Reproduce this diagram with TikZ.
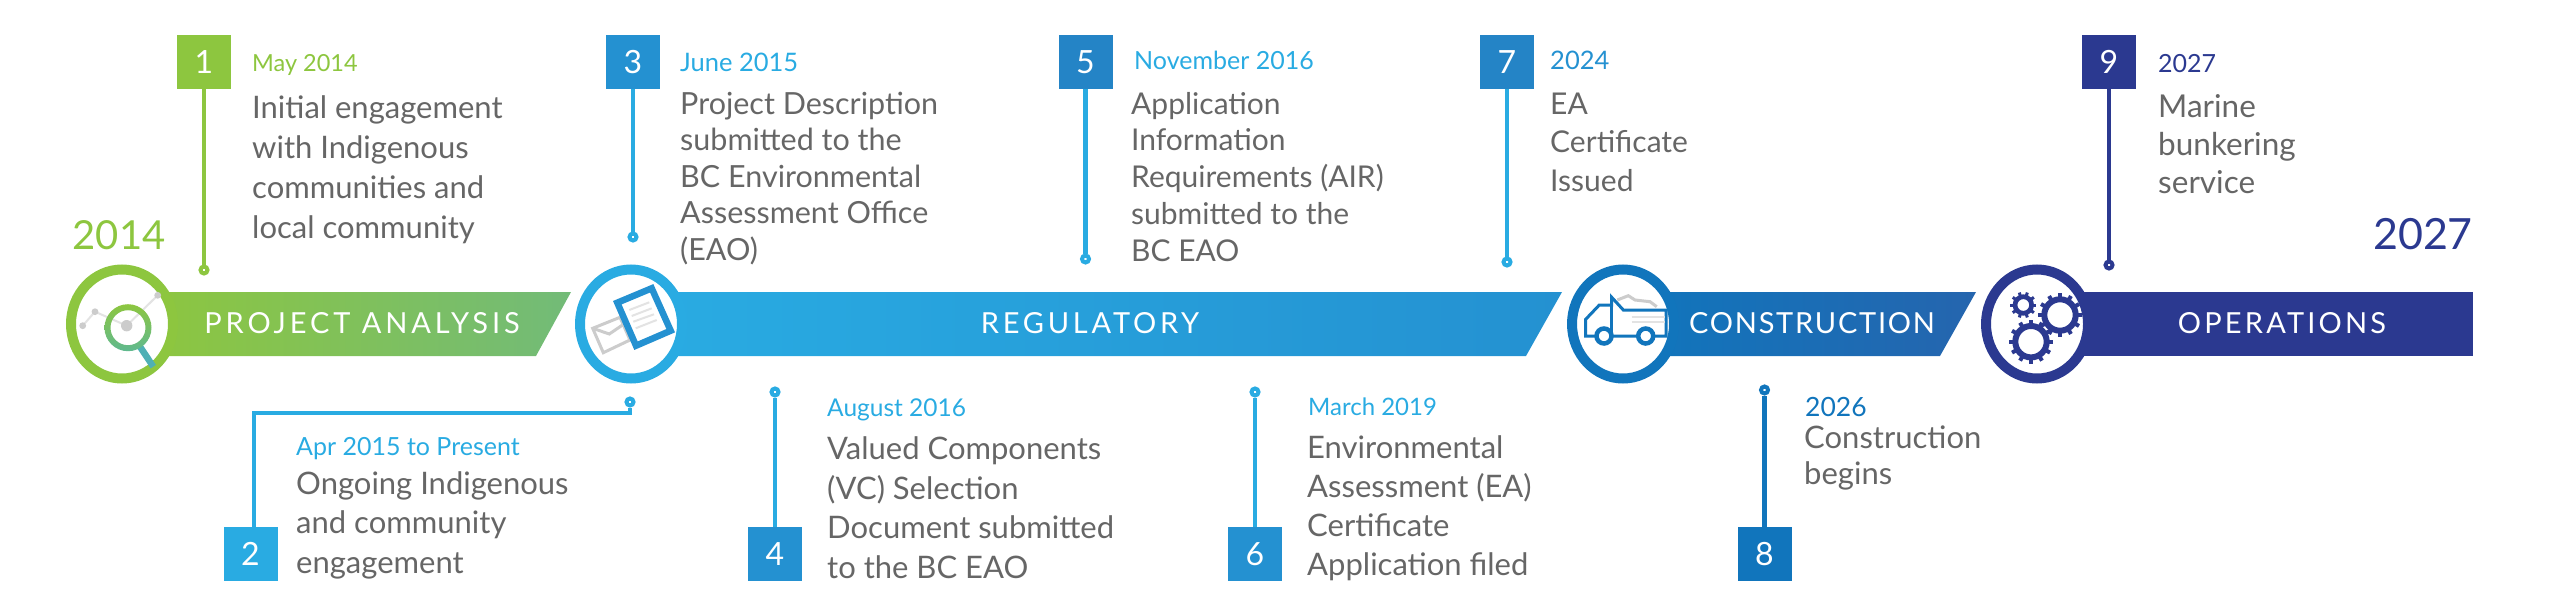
\documentclass[tikz,border=0pt]{standalone}
\usepackage{fontspec}
\setmainfont{Lato}
\usetikzlibrary{shapes.geometric}
\definecolor{grn}{HTML}{8DC63F}
\definecolor{grnb}{HTML}{72BB78}
\definecolor{lensb}{HTML}{5FB98F}
\definecolor{handle}{HTML}{4FB0B5}
\definecolor{sky}{HTML}{29ABE2}
\definecolor{mid}{HTML}{2491D1}
\definecolor{deep}{HTML}{2484C6}
\definecolor{con}{HTML}{1175BC}
\definecolor{conb}{HTML}{2565AE}
\definecolor{ops}{HTML}{2B3990}
\definecolor{txt}{HTML}{666666}
\definecolor{pale}{HTML}{CCCCCC}
\definecolor{paler}{HTML}{E3E3E3}
\tikzset{
  numbox/.style={fill=#1,text=white,inner sep=0,minimum width=54,minimum height=54,
    font=\fontsize{32}{32}\selectfont},
  stemdot/.style={circle,draw=#1,fill=white,line width=4,inner sep=0,minimum size=7},
  stem/.style={line width=4.5,draw=#1},
  ring/.style={ellipse,draw=#1,fill=white,line width=10,inner sep=0,minimum width=102,minimum height=109},
  datetxt/.style n args={2}{anchor=base west,inner sep=0,text=#1,font=\fontsize{#2}{#2}\selectfont},
  bodytxt/.style n args={2}{anchor=base west,align=left,inner sep=0,text=txt,font=\fontsize{#1}{#2}\selectfont},
  yeartxt/.style={inner sep=0,text=#1,font=\fontsize{40}{40}\selectfont},
  bandtxt/.style={inner sep=0,text=white,font=\fontsize{29}{29}\selectfont\addfontfeature{LetterSpace=#1}},
}
\def\gearicon#1#2#3#4{%
  \draw [ops,line width=#2] (0,0) circle (#1);
  \foreach \a in {0,#4,...,359}
    \draw [ops,line width=#3] (\a:#1) -- (\a:#1+#2*0.5+#3*0.8);
}
\begin{document}
\begin{tikzpicture}[x=1pt,y=-1pt]
\useasboundingbox (0,0) rectangle (2550,610);
% bands
\shade [left color=grn,right color=grnb] (150,292) -- (571,292) -- (536,356) -- (150,356) -- cycle;
\shade [left color=sky,right color=mid] (660,292) -- (1562,292) -- (1526,356) -- (660,356) -- cycle;
\shade [left color=con,right color=conb] (1650,292) -- (1976,292) -- (1940,356) -- (1650,356) -- cycle;
\fill [ops] (2060,292) rectangle (2473,356);
\node [bandtxt=13.5] (analysis) at (362,323) {PROJECT ANALYSIS};
\node [bandtxt=13] (regulatory) at (1090,323) {REGULATORY};
\node [bandtxt=6] (construction) at (1812,323) {CONSTRUCTION};
\node [bandtxt=11] (operations) at (2282,323) {OPERATIONS};
\node [ring=grn] (c1) at (122,324) {};
\node [ring=sky] (c2) at (631,324) {};
\node [ring=con] (c3) at (1623,324) {};
\node [ring=ops] (c4) at (2037,324) {};
\node [yeartxt=grn] (y2014) at (119,235) {2014};
\node [yeartxt=ops,font=\fontsize{43}{43}\selectfont] (y2027) at (2423,234) {2027};
% numbered boxes and stems
\foreach \n / \x / \y / \boxcol / \linecol / \dy in {
  1/204/62/grn/grn/270, 3/633/62/mid/sky/237, 5/1085.5/62/deep/sky/259,
  7/1507/62/deep/sky/262, 9/2109/62/ops/ops/265,
  4/775/554/mid/sky/392, 6/1255/554/mid/sky/392, 8/1764.5/554/con/con/390}
{
  \node [numbox=\boxcol] (b\n) at (\x,\y) {\n};
  \node [stemdot=\linecol] (d\n) at (\x,\dy) {};
  \draw [stem=\linecol] (b\n) -- (d\n);
}
\node [numbox=sky] (b2) at (250.5,554) {2};
\node [stemdot=sky] (d2) at (630,402) {};
\coordinate (k2) at (630,413);
\draw [stem=sky] ([xshift=3.5pt]b2.north) |- (k2) -- (d2);
% dates
\node [datetxt={grn}{23.5}] (t1) at (252,71) {May 2014};
\node [datetxt={sky}{25}] (t2) at (296,455) {Apr 2015 to Present};
\node [datetxt={sky}{25.5}] (t3) at (680,71) {June 2015};
\node [datetxt={sky}{24.5}] (t4) at (827,416) {August 2016};
\node [datetxt={sky}{25}] (t5) at (1134,70) {November 2016};
\node [datetxt={sky}{24}] (t6) at (1308,415) {March 2019};
\node [datetxt={mid}{25.5}] (t7) at (1550,70) {2024};
\node [datetxt={con}{26.5}] (t8) at (1805,416) {2026};
\node [datetxt={ops}{25}] (t9) at (2158,72) {2027};
% texts
\node [bodytxt={31}{40}] (n1) at (252,238) {Initial engagement\\with Indigenous\\communities and\\local community};
\node [bodytxt={31}{39.5}] (n2) at (296,573) {Ongoing Indigenous\\and community\\engagement};
\node [bodytxt={30.5}{36.5}] (n3) at (680,260) {Project Description\\submitted to the\\BC Environmental\\Assessment Office\\(EAO)};
\node [bodytxt={31}{39.5}] (n4) at (827,578) {Valued Components\\(VC) Selection\\Document submitted\\to the BC EAO};
\node [bodytxt={30}{36.7}] (n5) at (1131,261) {Application\\Information\\Requirements (AIR)\\submitted to the\\BC EAO};
\node [bodytxt={31}{39}] (n6) at (1307,575) {Environmental\\Assessment (EA)\\Certificate\\Application filed};
\node [bodytxt={30}{38.5}] (n7) at (1550,191) {EA\\Certificate\\Issued};
\node [bodytxt={31}{36}] (n8) at (1804,484) {Construction\\begins};
\node [bodytxt={31.5}{38}] (n9) at (2158,193) {Marine\\bunkering\\service};
% magnifier
\draw [paler,line width=2] (82.7,325.7) -- (95,311.7) -- (126.7,325.7) -- (157.7,295.3);
\fill [pale] (82.7,325.7) circle (3.4) (95,311.7) circle (3.4) (157.7,295.3) circle (3.4) (126.7,325.7) circle (5.7);
\draw [handle,line width=6.5] (140,346.7) -- (153.3,366.7);
\shade [top color=grn,bottom color=lensb,even odd rule] (128,327.7) circle (23.5) (128,327.7) circle (17.5);
% envelope and sheet
\draw [pale,line width=3] (592.7,328.3) -- (620,317.3) -- (630,340) -- (603.3,352.7) -- cycle;
\draw [pale,line width=3] (592.7,328.3) -- (609.3,334) -- (625,323.3);
\filldraw [fill=white,draw=mid,line width=6.5] (617.3,302.7) -- (651.7,288.3) -- (670.7,330.7) -- (636,345.7) -- cycle;
\draw [paler,line width=2] (629.3,310) -- (649.3,302.3) (631.7,316) -- (651.7,308.3) (633.3,321.7) -- (654,314.3) (635.7,328.3) -- (656.7,320);
% truck
\draw [pale,line width=3] (1617.3,300) -- (1628.3,295.7) -- (1635,300) -- (1650,301.7) -- (1656.7,306.7);
\draw [con,line width=3] (1585.7,319.3) -- (1599.3,305) -- (1611.7,305) -- (1611.7,297.3) -- (1623.3,310) -- (1666,310) -- (1666,336) -- (1585.7,336) -- cycle;
\draw [con,line width=3] (1611.7,297.3) -- (1611.7,336);
\draw [paler,line width=2] (1631.7,317.3) -- (1665,317.3) (1631.7,321.7) -- (1665,321.7);
\filldraw [fill=white,draw=con,line width=4.5] (1604,336) circle (7.5) (1645.7,336) circle (7.5);
% gears
\begin{scope}[shift={(2023.3,305)}]
\gearicon{8.3}{4.7}{3}{36}
\end{scope}
\begin{scope}[shift={(2060,315)}]
\gearicon{15.7}{6}{4}{30}
\end{scope}
\begin{scope}[shift={(2031,341.7)}]
\gearicon{15.7}{6}{4}{30}
\end{scope}
\end{tikzpicture}
\end{document}
